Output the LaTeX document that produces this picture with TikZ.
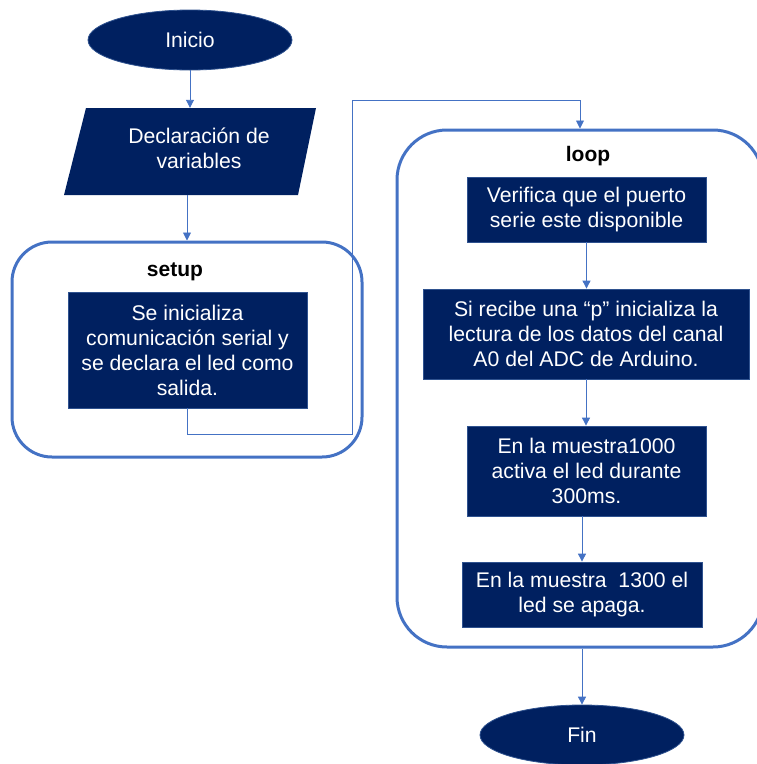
\documentclass[tikz,border=0pt]{standalone}
\usepackage{fontspec}
\setmainfont{Liberation Sans}
\usetikzlibrary{arrows.meta,shapes.geometric}
\definecolor{navy}{HTML}{002060}
\definecolor{navyedge}{HTML}{2F528F}
\definecolor{frame}{HTML}{4472C4}
\tikzset{
  txtfont/.style={font=\fontsize{21.2}{25}\selectfont},
  term/.style={ellipse, fill=navy, draw=navyedge, line width=0.8pt, text=white, inner sep=0pt,
     minimum width=204pt, minimum height=60pt, txtfont},
  procbox/.style={rectangle, fill=navy, draw=navyedge, line width=0.8pt, text=white, align=center,
     inner sep=0pt, txtfont},
  container/.style={rectangle, draw=frame, line width=3pt},
  title/.style={font=\fontsize{21}{25}\selectfont\bfseries},
  conn/.style={draw=frame, line width=0.9pt, -{Triangle[width=8pt,length=8pt]}}
}
\begin{document}
\begin{tikzpicture}[x=1pt,y=-1pt]
\useasboundingbox (0,0) rectangle (756,764);

% containers
\node[container, minimum width=350pt, minimum height=215pt, rounded corners=40pt] (setupbox) at (187,349.5) {};
\node[container, minimum width=366pt, minimum height=517pt, rounded corners=50pt] (loopbox) at (580,388.5) {};

% start
\node[term] (start) at (190,40) {Inicio};

% parallelogram (input)
\fill[navy] (86,108) -- (316,108) -- (298,195) -- (64,195) -- cycle;
\node[minimum width=200pt, minimum height=87pt, inner sep=0pt] (decl) at (190,151.5) {};
\node[txtfont, text=white, align=center, inner sep=0pt] (decltxt) at (199,148.5) {Declaración de\\variables};

% setup
\node[title] (setuplbl) at (175,272) {setup};
\node[procbox, minimum width=239pt, minimum height=116pt] (s1) at (187.5,350)
  {Se inicializa\\comunicación serial y\\se declara el led como\\salida.};

% loop
\node[title] (looplbl) at (588,156) {loop};
\node[procbox, minimum width=239pt, minimum height=65pt] (l1) at (586.5,209.5)
  {Verifica que el puerto\\serie este disponible};
\node[procbox, minimum width=326pt, minimum height=90pt] (l2) at (586,334)
  {Si recibe una “p” inicializa la\\lectura de los datos del canal\\A0 del ADC de Arduino.};
\node[procbox, minimum width=239pt, minimum height=90pt] (l3) at (586.5,471)
  {En la muestra1000\\activa el led durante\\300ms.};
\node[procbox, minimum width=240pt, minimum height=65pt] (l4) at (582,594.5)
  {En la muestra\ \ 1300 el\\led se apaga.};

% end
\node[term] (fin) at (582,735) {Fin};

% connectors
\coordinate (c1) at (352,434);
\coordinate (c2) at (352,100);
\draw[conn] (start.south) -- (decl.north);
\draw[conn] (decl.south -| setupbox.north) -- (setupbox.north);
\draw[conn] (s1.south) |- (c1) -- (c2) -| (loopbox.north);
\draw[conn] (l1.south) -- (l1.south |- l2.north);
\draw[conn] (l2.south) -- (l2.south |- l3.north);
\draw[conn] (l3.south -| l4.north) -- (l4.north);
\draw[conn] (loopbox.south -| fin.north) -- (fin.north);
\end{tikzpicture}
\end{document}
